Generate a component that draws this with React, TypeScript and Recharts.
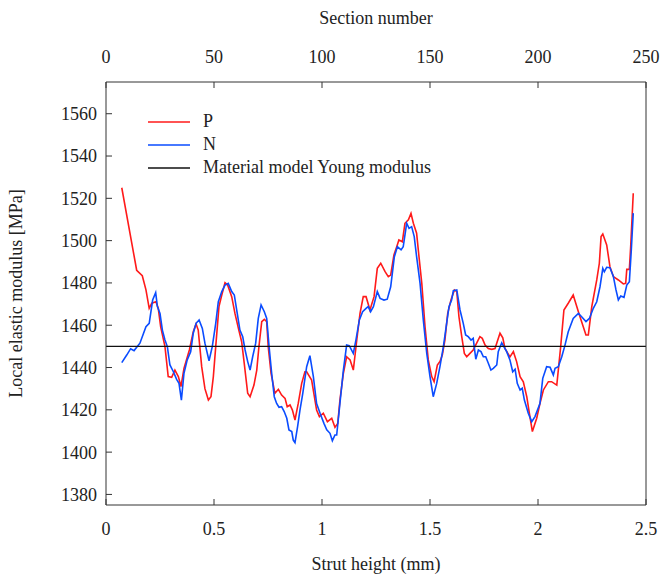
import { LineChart, Line, XAxis, YAxis, Legend, Label } from "recharts";

// strut height (mm) and local modulus (MPa)
const P_HEIGHT = [
  0.073, 0.142, 0.168, 0.185, 0.2, 0.212, 0.231, 0.242, 0.253, 0.273, 0.288, 0.304, 0.319, 0.335, 0.347,
  0.361, 0.386, 0.404, 0.417, 0.427, 0.443, 0.458, 0.474, 0.486, 0.497, 0.508, 0.523, 0.536, 0.551, 0.563,
  0.582, 0.597, 0.613, 0.628, 0.64, 0.656, 0.667, 0.685, 0.698, 0.708, 0.721, 0.733, 0.744, 0.751, 0.764,
  0.782, 0.798, 0.813, 0.829, 0.839, 0.852, 0.863, 0.875, 0.89, 0.906, 0.921, 0.929, 0.952, 0.975, 0.988,
  1.006, 1.025, 1.045, 1.06, 1.073, 1.083, 1.099, 1.114, 1.13, 1.145, 1.161, 1.176, 1.191, 1.204, 1.222,
  1.241, 1.256, 1.272, 1.292, 1.307, 1.318, 1.333, 1.346, 1.356, 1.372, 1.384, 1.4, 1.412, 1.423, 1.438,
  1.449, 1.462, 1.477, 1.492, 1.508, 1.519, 1.534, 1.546, 1.557, 1.569, 1.582, 1.597, 1.613, 1.624, 1.634,
  1.647, 1.659, 1.67, 1.685, 1.7, 1.716, 1.731, 1.742, 1.755, 1.77, 1.786, 1.801, 1.824, 1.837, 1.847,
  1.87, 1.886, 1.901, 1.917, 1.932, 1.948, 1.96, 1.974, 1.994, 2.009, 2.025, 2.048, 2.063, 2.087, 2.105,
  2.12, 2.14, 2.163, 2.187, 2.202, 2.222, 2.233, 2.249, 2.272, 2.284, 2.292, 2.3, 2.318, 2.333, 2.349,
  2.372, 2.395, 2.406, 2.411, 2.423, 2.429, 2.441,
];
const P_MODULUS = [
  1525, 1486, 1483.4, 1476.7, 1468, 1470.4, 1471.1, 1468, 1459.3, 1449.9, 1435.7, 1435.4, 1438.8, 1435.7, 1431,
  1439.6, 1448.3, 1456.9, 1460.6, 1457.7, 1440.4, 1430, 1424.6, 1426.2, 1435.7, 1449.9, 1468.8, 1474.3, 1480.1, 1479,
  1473.5, 1465.6, 1458.5, 1452.2, 1442, 1427.8, 1426.2, 1431.7, 1438.8, 1449.9, 1461.7, 1462.8, 1461.7, 1449.9, 1437.3,
  1427.8, 1429.7, 1427, 1425.4, 1421.5, 1422.3, 1419.9, 1415.2, 1423, 1432.5, 1438, 1438, 1434.1, 1419.9, 1416.8,
  1418.4, 1414.4, 1416, 1411.7, 1413.6, 1424.6, 1437.3, 1445.1, 1443.6, 1438.8, 1453, 1465.6, 1473.5, 1473.5, 1467.2,
  1473.5, 1486.9, 1489.3, 1485.3, 1483, 1483.7, 1493.2, 1497.1, 1500.3, 1499.5, 1508.2, 1509.8, 1512.9, 1508.2, 1503.5,
  1492.4, 1479.8, 1459.3, 1443.6, 1435.7, 1433.3, 1441.2, 1442.8, 1445.9, 1453, 1465.6, 1471.9, 1476.7, 1475.9, 1464,
  1454.6, 1446.7, 1445.1, 1446.7, 1448.3, 1451.5, 1454.6, 1453.8, 1450.6, 1449, 1448.6, 1449, 1456.2, 1454, 1449,
  1445, 1447.5, 1442.8, 1435.7, 1433.3, 1426.2, 1418.4, 1409.7, 1416, 1423, 1429.4, 1433.3, 1433.3, 1431.7, 1449.9,
  1467.2, 1470.4, 1474.3, 1466.4, 1461.7, 1455.4, 1455.4, 1468.8, 1481.4, 1489.3, 1501.9, 1503.1, 1498, 1487.7, 1483,
  1481.4, 1479.5, 1479.8, 1486.4, 1486.4, 1497.1, 1522.4,
];

const N_HEIGHT = [
  0.073, 0.096, 0.114, 0.13, 0.157, 0.185, 0.2, 0.216, 0.23, 0.238, 0.25, 0.261, 0.273, 0.284, 0.296,
  0.312, 0.327, 0.338, 0.349, 0.361, 0.376, 0.392, 0.404, 0.417, 0.431, 0.446, 0.458, 0.477, 0.492, 0.508,
  0.52, 0.536, 0.551, 0.566, 0.582, 0.594, 0.605, 0.62, 0.633, 0.644, 0.656, 0.667, 0.679, 0.693, 0.705,
  0.718, 0.733, 0.744, 0.755, 0.767, 0.779, 0.79, 0.801, 0.813, 0.825, 0.837, 0.847, 0.86, 0.867, 0.875,
  0.887, 0.898, 0.911, 0.929, 0.944, 0.96, 0.975, 0.991, 1.009, 1.022, 1.037, 1.048, 1.06, 1.068, 1.083,
  1.099, 1.114, 1.126, 1.145, 1.157, 1.173, 1.188, 1.204, 1.214, 1.225, 1.238, 1.256, 1.269, 1.287, 1.302,
  1.318, 1.335, 1.349, 1.366, 1.376, 1.392, 1.403, 1.415, 1.427, 1.438, 1.454, 1.469, 1.485, 1.5, 1.515,
  1.531, 1.546, 1.562, 1.577, 1.588, 1.6, 1.608, 1.624, 1.639, 1.654, 1.665, 1.677, 1.69, 1.7, 1.712,
  1.724, 1.736, 1.747, 1.758, 1.77, 1.782, 1.793, 1.809, 1.816, 1.832, 1.855, 1.87, 1.883, 1.894, 1.904,
  1.917, 1.927, 1.937, 1.955, 1.971, 1.986, 2.009, 2.022, 2.04, 2.056, 2.071, 2.079, 2.094, 2.11, 2.125,
  2.14, 2.163, 2.187, 2.202, 2.222, 2.238, 2.256, 2.272, 2.287, 2.3, 2.307, 2.318, 2.333, 2.349, 2.361,
  2.372, 2.383, 2.398, 2.411, 2.423, 2.432, 2.441,
];
const N_MODULUS = [
  1442.3, 1445.9, 1448.9, 1448, 1451.5, 1459.3, 1460.9, 1471.9, 1475.4, 1468.8, 1465.6, 1457.7, 1453, 1449.9, 1441.2,
  1438, 1434.4, 1432.5, 1424.6, 1437.3, 1443.6, 1447.5, 1456.2, 1460.9, 1462.5, 1458.5, 1451.5, 1443.2, 1449.9, 1460.9,
  1471.1, 1475.9, 1479, 1479.8, 1475.9, 1474.3, 1467.2, 1457.7, 1454.6, 1448.3, 1442.8, 1438.8, 1445.1, 1451.5, 1463.2,
  1469.6, 1466.4, 1463.2, 1449.9, 1437.3, 1426.2, 1423, 1421.2, 1421.5, 1419.2, 1416, 1410.5, 1409.7, 1405.7, 1404.5,
  1412.1, 1419.9, 1427.8, 1440.4, 1445.6, 1435.7, 1423, 1418.4, 1413.6, 1410.5, 1408.9, 1405.4, 1408.1, 1408.1, 1423,
  1438.8, 1450.6, 1450.3, 1446.7, 1453, 1462.5, 1466.4, 1468, 1468.8, 1466.4, 1468.8, 1475.9, 1472.7, 1471.9, 1472.3,
  1478.2, 1492.4, 1497.1, 1495.6, 1497.1, 1508.2, 1505.8, 1506.6, 1501.9, 1492.4, 1479.8, 1462.5, 1446.7, 1435.7, 1426.2,
  1432.5, 1440.4, 1449.9, 1460.9, 1468.8, 1471.9, 1476.3, 1476.7, 1467.2, 1460.9, 1455.4, 1454.6, 1453, 1453.8, 1443.9,
  1448.3, 1447.5, 1445.1, 1445.1, 1442, 1438.8, 1439.6, 1441.2, 1447.5, 1451.7, 1447.5, 1443.6, 1438, 1439.2, 1432.5,
  1429.4, 1430.2, 1424.6, 1418.4, 1414.4, 1416.8, 1423, 1434.9, 1440.4, 1440.1, 1436.5, 1439.6, 1440.4, 1445.1, 1450.6,
  1456.9, 1463.2, 1465.6, 1464, 1461.7, 1463.2, 1468, 1471.1, 1478.2, 1486.9, 1485.3, 1487.4, 1487.2, 1483, 1476.7,
  1472, 1473.8, 1473.2, 1479, 1480.6, 1495.6, 1513,
];

// material model: constant over all sections
const YOUNG_MODULUS = 1450;
const SECTION_RANGE = [0, 250];
const HEIGHT_RANGE = [0, 2.5];

const X_TICKS = [0, 0.5, 1, 1.5, 2, 2.5];
const SECTION_TICKS = [0, 50, 100, 150, 200, 250];
const Y_TICKS = [1380, 1400, 1420, 1440, 1460, 1480, 1500, 1520, 1540, 1560];
const SERIES_NAMES = ["P", "N", "Material model Young modulus"];

const FONT = '"Liberation Serif", "Times New Roman", serif';
const INK = "#222";
const FRAME = "#333";

const pData = P_HEIGHT.map((h, i) => ({ h, E: P_MODULUS[i] }));
const nData = N_HEIGHT.map((h, i) => ({ h, E: N_MODULUS[i] }));
const youngData = SECTION_RANGE.map((s) => ({ s, E: YOUNG_MODULUS }));

function LegendBox({ payload }: any) {
  const items = [...(payload || [])].sort(
    (a: any, b: any) => SERIES_NAMES.indexOf(a.value) - SERIES_NAMES.indexOf(b.value)
  );
  return (
    <div style={{ fontFamily: FONT, fontSize: 18, color: INK }}>
      {items.map((e: any) => (
        <div key={e.value} style={{ display: "flex", alignItems: "center", height: 23 }}>
          <svg width={42} height={4} style={{ display: "block" }}>
            <line x1={0} x2={42} y1={2} y2={2} stroke={e.color} strokeWidth={1.6} />
          </svg>
          <span style={{ marginLeft: 13 }}>{e.value}</span>
        </div>
      ))}
    </div>
  );
}

const tickStyle = { fill: INK, fontSize: 18, fontFamily: FONT };
const titleStyle = { fill: INK, fontSize: 18, fontFamily: FONT };

export default function App() {
  return (
    <div style={{ position: "absolute", left: 0, top: 0, width: 660, height: 577, background: "#fff" }}>
      <LineChart width={660} height={577} margin={{ top: 0, right: 0, bottom: 0, left: 0 }} style={{ fontFamily: FONT }}>
        <XAxis
          xAxisId="bottom"
          dataKey="h"
          type="number"
          domain={HEIGHT_RANGE}
          ticks={X_TICKS}
          height={72}
          tickSize={-6}
          tickMargin={23}
          tick={tickStyle}
          stroke={FRAME}
        >
          <Label value="Strut height (mm)" position="insideBottom" offset={7} style={titleStyle} />
        </XAxis>
        <XAxis
          xAxisId="top"
          dataKey="s"
          orientation="top"
          type="number"
          domain={SECTION_RANGE}
          ticks={SECTION_TICKS}
          height={82}
          tickSize={-6}
          tickMargin={25}
          tick={tickStyle}
          stroke={FRAME}
        >
          <Label value="Section number" position="insideTop" offset={11} style={titleStyle} />
        </XAxis>
        <YAxis
          yAxisId="left"
          type="number"
          domain={[1375, 1575]}
          ticks={Y_TICKS}
          width={106}
          tickSize={-6}
          tickMargin={15}
          tick={tickStyle}
          stroke={FRAME}
        >
          <Label
            value="Local elastic modulus [MPa]"
            angle={-90}
            position="insideLeft"
            offset={16}
            textAnchor="middle"
            style={{ ...titleStyle, textAnchor: "middle" }}
          />
        </YAxis>
        <YAxis
          yAxisId="right"
          orientation="right"
          type="number"
          domain={[1375, 1575]}
          ticks={Y_TICKS}
          width={14}
          tickSize={-6}
          tick={false}
          stroke={FRAME}
        />
        <Legend
          layout="vertical"
          align="center"
          verticalAlign="middle"
          content={<LegendBox />}
          wrapperStyle={{ position: "absolute", left: 148, top: 110, width: "auto", height: "auto" }}
        />
        <Line
          xAxisId="bottom"
          yAxisId="left"
          data={pData}
          dataKey="E"
          name="P"
          type="linear"
          stroke="#ff1a1a"
          strokeWidth={1.6}
          dot={false}
          isAnimationActive={false}
        />
        <Line
          xAxisId="bottom"
          yAxisId="left"
          data={nData}
          dataKey="E"
          name="N"
          type="linear"
          stroke="#0a4cff"
          strokeWidth={1.6}
          dot={false}
          isAnimationActive={false}
        />
        <Line
          xAxisId="top"
          yAxisId="left"
          data={youngData}
          dataKey="E"
          name="Material model Young modulus"
          type="linear"
          stroke="#111"
          strokeWidth={1.3}
          dot={false}
          isAnimationActive={false}
        />
      </LineChart>
    </div>
  );
}
